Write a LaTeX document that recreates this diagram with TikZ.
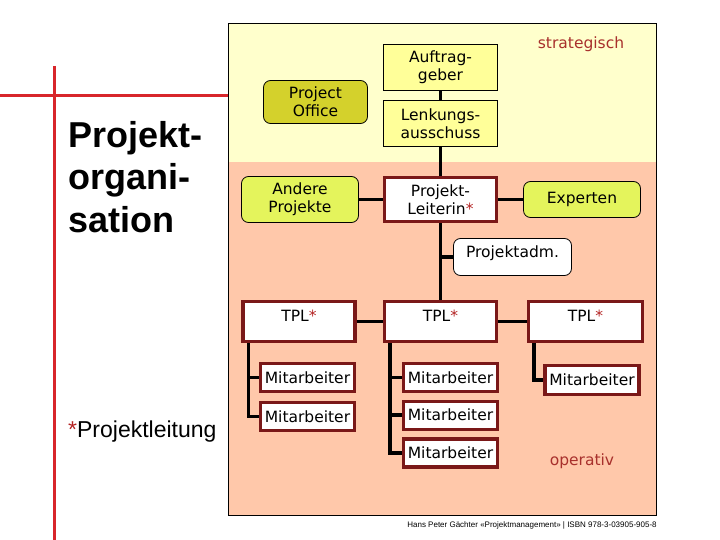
\documentclass[tikz,border=0pt]{standalone}
\usepackage{fontspec}
\setmainfont{DejaVu Sans}
\newfontfamily\arialfont{Liberation Sans}
\usetikzlibrary{positioning}
\definecolor{cstrat}{HTML}{FFFFCC}
\definecolor{coper}{HTML}{FFC8AA}
\definecolor{cbox}{HTML}{FFFF99}
\definecolor{coffice}{HTML}{D4D12C}
\definecolor{cgreen}{HTML}{E4F45C}
\definecolor{cframe}{HTML}{7A1818}
\definecolor{cline}{HTML}{D8262B}
\definecolor{clabel}{HTML}{A8302C}
\definecolor{cstar}{HTML}{B42424}
\newcommand{\stern}{\textcolor{cstar}{*}}

\begin{document}
\begin{tikzpicture}[x=1pt, y=-1pt,
      node distance=7pt,
      box/.style={draw=black, line width=0.8pt, fill=cbox, align=center, inner sep=2pt,
                  font=\fontsize{15.5}{18}\selectfont, minimum width=114pt, minimum height=46pt},
      soft/.style={box, rounded corners=7pt, fill=cgreen, minimum width=117pt},
      lead/.style={box, draw=cframe, fill=white, line width=3.2pt, minimum width=112pt, minimum height=44pt},
      tpl/.style={lead, minimum height=40pt, text height=10pt, text depth=10pt},
      ma/.style={lead, minimum width=94pt, minimum height=28pt},
      lbl/.style={font=\fontsize{15.5}{18}\selectfont\color{clabel}},
      conn/.style={line width=3.5pt, draw=black}]
    \useasboundingbox (0,0) rectangle (720,540);

    % Ebenen
    \fill[cstrat] (228,24) rectangle (656,162);
    \fill[coper] (228,162) rectangle (656,515);
    \draw[line width=1pt] (228,24) rectangle (656,515);

    % rote Linien links
    \draw[cline, line width=3pt] (54,66) -- (54,540);
    \draw[cline, line width=3pt] (0,96) -- (228,96);

    \node[font=\arialfont\bfseries\fontsize{36}{42.5}\selectfont, align=left, anchor=north west, inner sep=0pt]
      (titel) at (68,121) {Projekt-\\organi-\\sation};
    \node[font=\arialfont\fontsize{23}{26}\selectfont, anchor=base west, inner sep=0pt]
      (fuss) at (68,437) {\stern Projektleitung};

    % strategische Ebene
    \node[box] (auftr) at (440.5,67) {Auftrag-\\geber};
    \node[box, below=10pt of auftr] (lenk) {Lenkungs-\\ausschuss};
    \node[box, rounded corners=7pt, fill=coffice, minimum width=104pt, minimum height=43pt]
      (office) at (315.5,102) {Project\\Office};
    \node[lbl] (strat) at (581,44) {strategisch};

    % operative Ebene
    \node[lead] (pl) at (440.5,199.5) {Projekt-\\Leiterin\stern};
    \node[soft] (andere) at (300,199.5) {Andere\\Projekte};
    \node[soft, minimum height=36pt] (exp) at (582,199.5) {Experten};
    \node[box, fill=white, rounded corners=7pt, minimum width=118pt, minimum height=37pt,
          text height=10pt, text depth=9pt] (padm) at (512.5,257) {Projektadm.};

    \node[tpl] (tplA) at (299,321.5) {TPL\stern};
    \node[tpl] (tplB) at (440.5,321.5) {TPL\stern};
    \node[tpl, minimum width=114pt] (tplC) at (585.5,321.5) {TPL\stern};

    \node[ma] (maA1) at (307.5,377.5) {Mitarbeiter};
    \node[ma, below=8pt of maA1] (maA2) {Mitarbeiter};
    \node[ma] (maB1) at (450.5,377.5) {Mitarbeiter};
    \node[ma, below=6.5pt of maB1] (maB2) {Mitarbeiter};
    \node[ma, below=6.5pt of maB2] (maB3) {Mitarbeiter};
    \node[ma, minimum height=29pt] (maC1) at (592,380) {Mitarbeiter};
    \node[lbl] (oper) at (582,461) {operativ};

    \node[font=\arialfont\fontsize{8}{9}\selectfont, anchor=base, inner sep=0pt]
      (quelle) at (532,527) {Hans Peter Gächter «Projektmanagement» | ISBN 978-3-03905-905-8};

    % Verbindungen
    \draw[conn] (auftr) -- (lenk);
    \draw[conn] (lenk) -- (pl);
    \draw[conn] (andere) -- (pl);
    \draw[conn] (pl) -- (exp);
    \draw[conn] (pl) -- (tplB);
    \draw[conn] (pl.south |- padm.west) -- (padm.west);
    \draw[conn] (tplA) -- (tplB);
    \draw[conn] (tplB) -- (tplC);
    \draw[conn] ([xshift=7pt]tplA.south west) |- (maA1.west);
    \draw[conn] ([xshift=7pt]tplA.south west) |- (maA2.west);
    \draw[conn] ([xshift=7pt]tplB.south west) |- (maB1.west);
    \draw[conn] ([xshift=7pt]tplB.south west) |- (maB2.west);
    \draw[conn] ([xshift=7pt]tplB.south west) |- (maB3.west);
    \draw[conn] ([xshift=7pt]tplC.south west) |- (maC1.west);
  \end{tikzpicture}
\end{document}
